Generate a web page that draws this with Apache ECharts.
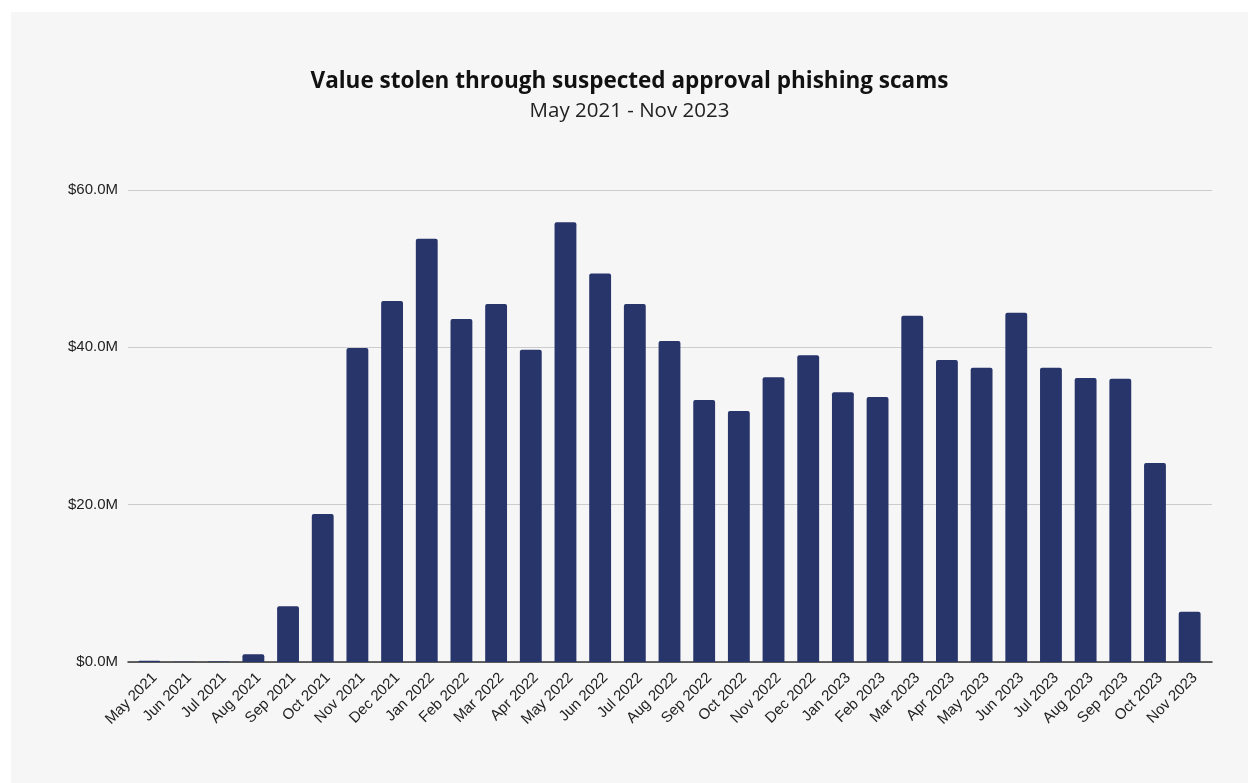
<!DOCTYPE html>
<html><head><meta charset="utf-8">
<script src="https://cdn.jsdelivr.net/npm/echarts@6/dist/echarts.min.js"></script>
<style>
html,body{margin:0;padding:0;background:#ffffff;}
#c{position:absolute;left:11px;top:12px;width:1237px;height:771px;background:#f6f6f6;}
</style></head><body>
<div id="c"></div>
<script>
const categories = ["May 2021","Jun 2021","Jul 2021","Aug 2021","Sep 2021","Oct 2021","Nov 2021","Dec 2021","Jan 2022","Feb 2022","Mar 2022","Apr 2022","May 2022","Jun 2022","Jul 2022","Aug 2022","Sep 2022","Oct 2022","Nov 2022","Dec 2022","Jan 2023","Feb 2023","Mar 2023","Apr 2023","May 2023","Jun 2023","Jul 2023","Aug 2023","Sep 2023","Oct 2023","Nov 2023"];
const valuesM = [0.15,0.03,0.05,1.0,7.1,18.8,39.9,45.9,53.8,43.6,45.5,39.7,55.9,49.4,45.5,40.8,33.3,31.9,36.2,39.0,34.3,33.7,44.0,38.4,37.4,44.4,37.4,36.1,36.0,25.3,6.4];
const yTicks = [0,20,40,60];
const titleText = "Value stolen through suspected approval phishing scams";
const subtitleText = "May 2021 - Nov 2023";

const yMin = yTicks[0], yMax = yTicks[yTicks.length-1];
const chart = echarts.init(document.getElementById('c'), null, {renderer:'canvas'});
chart.setOption({
  backgroundColor:'#f6f6f6',
  animation:false,
  title:{
    text:titleText, subtext:subtitleText, left:'center', top:53, itemGap:8,
    textStyle:{fontFamily:'Open Sans',fontWeight:'bold',fontSize:22.5,color:'#111'},
    subtextStyle:{fontFamily:'Open Sans',fontSize:20.5,color:'#222'}
  },
  grid:[
    {left:117,right:36,top:178,bottom:121,containLabel:false},
    {left:121,right:41,top:178,bottom:121,containLabel:false}
  ],
  xAxis:[
    {gridIndex:0,type:'category',data:['a'],
     axisLine:{lineStyle:{color:'#333',width:1.5}},axisTick:{show:false},axisLabel:{show:false}},
    {gridIndex:1,type:'category',data:categories,
     axisLine:{show:false},axisTick:{show:false},
     axisLabel:{rotate:45,interval:0,fontFamily:'Liberation Sans',fontSize:15,color:'#222',margin:8,verticalAlign:'top'}}
  ],
  yAxis:[
    {gridIndex:0,type:'value',min:yMin,max:yMax,interval:20,
     axisLine:{show:false},axisTick:{show:false},
     splitLine:{lineStyle:{color:'#cccccc',width:1}},
     axisLabel:{fontFamily:'Liberation Sans',fontSize:15,color:'#222',margin:10,
       formatter:v=>'$'+v.toFixed(1)+'M'}},
    {gridIndex:1,type:'value',min:yMin,max:yMax,interval:20,show:false,splitLine:{show:false}}
  ],
  series:[{
    type:'bar', xAxisIndex:1, yAxisIndex:1, data:valuesM, barWidth:'63%',
    itemStyle:{color:'#27356b',borderRadius:[2,2,0,0]}
  }]
});
</script></body></html>
